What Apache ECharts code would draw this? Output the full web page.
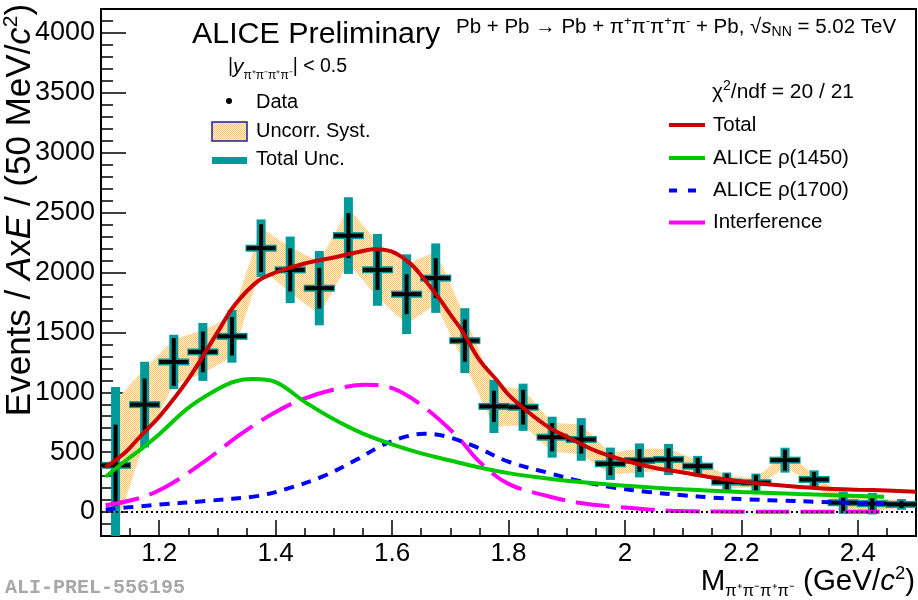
<!DOCTYPE html>
<html>
<head>
<meta charset="utf-8">
<script src="https://cdn.jsdelivr.net/npm/echarts@6/dist/echarts.min.js"></script>
<style>
html, body { margin: 0; padding: 0; background: #fff; }
#chart { width: 918px; height: 600px; }
</style>
</head>
<body>
<div id="chart"></div>
<script>
// Four-pion invariant mass spectrum, Pb-Pb UPC, with fit components
const binCenters = [1.125, 1.175, 1.225, 1.275, 1.325, 1.375, 1.425, 1.475, 1.525, 1.575,
                    1.625, 1.675, 1.725, 1.775, 1.825, 1.875, 1.925, 1.975, 2.025, 2.075,
                    2.125, 2.175, 2.225, 2.275, 2.325, 2.375, 2.425, 2.475];
const binHalfWidth = 0.025;
const counts  = [390, 897, 1253, 1337, 1467, 2203, 2022, 1869, 2308, 2022,
                 1819, 1953, 1431, 882, 875, 625, 606, 403, 431, 439,
                 383, 250, 245, 433, 272, 78, 70, 64];
const statErr = [340, 218, 200, 170, 160, 200, 180, 170, 188, 167,
                 167, 167, 176, 131, 145, 118, 118, 95, 95, 93,
                 70, 70, 65, 88, 62, 70, 65, 30];
const totErr  = [655, 358, 227, 242, 220, 240, 278, 310, 320, 300,
                 333, 290, 271, 222, 197, 171, 178, 135, 142, 130,
                 86, 80, 76, 104, 76, 93, 90, 45];
const systErr = [540, 300, 190, 180, 170, 170, 190, 220, 230, 230,
                 250, 220, 200, 170, 150, 120, 125, 90, 100, 90,
                 50, 50, 40, 60, 45, 60, 60, 30];

// Fit model: total and its components
const totalX = [1.108, 1.14, 1.17, 1.20, 1.25, 1.30, 1.33, 1.37, 1.40, 1.45, 1.50, 1.55, 1.57,
                1.60, 1.63, 1.65, 1.68, 1.70, 1.72, 1.75, 1.78, 1.80, 1.83, 1.87, 1.90, 1.95,
                2.00, 2.05, 2.10, 2.15, 2.20, 2.25, 2.30, 2.35, 2.40, 2.45, 2.50];
const totalY = [375, 490, 645, 795, 1110, 1500, 1730, 1930, 2000, 2075, 2125, 2180, 2195,
                2175, 2080, 1975, 1790, 1650, 1515, 1270, 1100, 980, 850, 705, 630, 510,
                430, 370, 330, 288, 255, 230, 210, 195, 187, 180, 170];
const rho1450X = [1.108, 1.14, 1.17, 1.20, 1.25, 1.30, 1.33, 1.36, 1.40, 1.45, 1.50, 1.55, 1.60,
                  1.65, 1.70, 1.75, 1.80, 1.85, 1.90, 2.00, 2.10, 2.20, 2.30, 2.40, 2.445];
const rho1450Y = [295, 420, 530, 650, 870, 1025, 1090, 1110, 1085, 920, 775, 655, 565,
                  490, 430, 372, 325, 290, 262, 220, 190, 168, 150, 135, 128];
const rho1700X = [1.108, 1.20, 1.28, 1.37, 1.42, 1.48, 1.54, 1.58, 1.62, 1.655, 1.69, 1.74, 1.80,
                  1.87, 1.92, 1.98, 2.04, 2.10, 2.15, 2.21, 2.27, 2.33, 2.38, 2.445];
const rho1700Y = [22, 62, 92, 135, 195, 295, 440, 550, 625, 653, 635, 552, 420,
                  325, 262, 205, 168, 140, 121, 106, 95, 86, 78, 72];
const interfX = [1.108, 1.17, 1.22, 1.28, 1.34, 1.40, 1.45, 1.51, 1.555, 1.60, 1.65, 1.71, 1.75,
                 1.80, 1.87, 1.92, 1.98, 2.04, 2.10, 2.20, 2.30, 2.445];
const interfY = [56, 122, 235, 430, 650, 835, 950, 1035, 1062, 1035, 895, 640, 420,
                 235, 130, 78, 45, 22, 8, 3, 2, 2];

// Axis ticks
const xMajorTicks = [1.2, 1.4, 1.6, 1.8, 2.0, 2.2, 2.4];
const xMinorTicks = [1.15, 1.2, 1.25, 1.3, 1.35, 1.4, 1.45, 1.5, 1.55, 1.6, 1.65, 1.7, 1.75,
                     1.8, 1.85, 1.9, 1.95, 2.0, 2.05, 2.1, 2.15, 2.2, 2.25, 2.3, 2.35, 2.4, 2.45];
const yMajorTicks = [0, 500, 1000, 1500, 2000, 2500, 3000, 3500, 4000];
const yMinorTicks = [-100, 0, 100, 200, 300, 400, 500, 600, 700, 800, 900, 1000, 1100, 1200,
                     1300, 1400, 1500, 1600, 1700, 1800, 1900, 2000, 2100, 2200, 2300, 2400,
                     2500, 2600, 2700, 2800, 2900, 3000, 3100, 3200, 3300, 3400, 3500, 3600,
                     3700, 3800, 3900, 4000, 4100];

const FONT = "'Liberation Sans', Arial, Helvetica, sans-serif";
const TEAL = '#009a9a';
const RED = '#cc0000';
const GREEN = '#00c800';
const BLUE = '#0000ff';
const MAGENTA = '#ff00ff';

// dotted orange fill for the systematic band
function dottedFill() {
  const c = document.createElement('canvas');
  c.width = 2; c.height = 2;
  const g = c.getContext('2d');
  g.fillStyle = '#fff0d6'; g.fillRect(0, 0, 2, 2);
  g.fillStyle = '#ffc66a'; g.fillRect(0, 0, 1, 1); g.fillRect(1, 1, 1, 1);
  return c;
}
const bandPattern = { image: dottedFill(), repeat: 'repeat' };

const pairs = (xs, ys) => xs.map((x, i) => [x, ys[i]]);

const chart = echarts.init(document.getElementById('chart'), null, { renderer: 'canvas' });

function errorCross(color, errs, vWidth, hThick, hExtra) {
  return function (params, api) {
    const i = params.dataIndex;
    const x = binCenters[i], y = counts[i], e = errs[i];
    const top = api.coord([x, y + e]);
    const bot = api.coord([x, y - e]);
    const left = api.coord([x - binHalfWidth, y]);
    const right = api.coord([x + binHalfWidth, y]);
    return {
      type: 'group',
      children: [
        { type: 'rect', shape: { x: top[0] - vWidth / 2, y: top[1], width: vWidth, height: bot[1] - top[1] },
          style: { fill: color } },
        { type: 'rect', shape: { x: left[0] - hExtra, y: left[1] - hThick / 2, width: right[0] - left[0] + 2 * hExtra, height: hThick },
          style: { fill: color } }
      ]
    };
  };
}

const hiddenLine = { show: false, onZero: false };
const tickStyle = { color: '#000', width: 1.5 };

const option = {
  animation: false,
  backgroundColor: '#fff',
  grid: { left: 101, right: 2, top: 9, bottom: 64, show: true, borderColor: '#000', borderWidth: 2, backgroundColor: 'transparent' },
  xAxis: [
    { type: 'value', min: 1.1, max: 2.5, position: 'bottom',
      axisLine: hiddenLine, splitLine: { show: false },
      axisTick: { show: true, inside: true, length: 8, customValues: xMinorTicks, lineStyle: tickStyle },
      axisLabel: { show: false } },
    { type: 'value', min: 1.1, max: 2.5, position: 'bottom',
      axisLine: hiddenLine, splitLine: { show: false },
      axisTick: { show: true, inside: true, length: 16, customValues: xMajorTicks, lineStyle: tickStyle },
      axisLabel: { show: true, customValues: xMajorTicks, margin: 5, fontSize: 26, color: '#000', fontFamily: FONT,
                   formatter: v => String(Math.round(v * 10) / 10) } }
  ],
  yAxis: [
    { type: 'value', min: -200, max: 4200, position: 'left',
      axisLine: hiddenLine, splitLine: { show: false },
      axisTick: { show: true, inside: true, length: 12, customValues: yMinorTicks, lineStyle: tickStyle },
      axisLabel: { show: false } },
    { type: 'value', min: -200, max: 4200, position: 'left',
      axisLine: hiddenLine, splitLine: { show: false },
      axisTick: { show: true, inside: true, length: 25, customValues: yMajorTicks, lineStyle: tickStyle },
      axisLabel: { show: true, customValues: yMajorTicks, margin: 6, fontSize: 27, color: '#000', fontFamily: FONT,
                   formatter: v => String(v) } }
  ],
  series: [
    { // uncorrelated systematic band
      type: 'custom', name: 'Uncorr. Syst.', z: 1, clip: true,
      data: [[binCenters[0], counts[0]]],
      renderItem: function (params, api) {
        const pts = [];
        for (let i = 0; i < binCenters.length; i++) pts.push(api.coord([binCenters[i], counts[i] + systErr[i]]));
        for (let i = binCenters.length - 1; i >= 0; i--) pts.push(api.coord([binCenters[i], counts[i] - systErr[i]]));
        return { type: 'polygon', shape: { points: pts }, style: { fill: bandPattern, stroke: null } };
      }
    },
    { // total uncertainty
      type: 'custom', name: 'Total Unc.', z: 2, clip: true,
      data: binCenters.map((x, i) => [x, counts[i]]),
      renderItem: errorCross(TEAL, totErr, 9, 7, 1)
    },
    { // statistical uncertainty
      type: 'custom', name: 'Data', z: 3, clip: true,
      data: binCenters.map((x, i) => [x, counts[i]]),
      renderItem: errorCross('#000', statErr, 4, 4, 0)
    },
    { type: 'scatter', z: 3, data: pairs(binCenters, counts), symbolSize: 5, itemStyle: { color: '#000' } },
    { type: 'line', name: 'Interference', z: 4, data: pairs(interfX, interfY), showSymbol: false, smooth: 0.35,
      lineStyle: { color: MAGENTA, width: 4, type: [34, 11] } },
    { type: 'line', name: 'ALICE ρ(1700)', z: 4, data: pairs(rho1700X, rho1700Y), showSymbol: false, smooth: 0.35,
      lineStyle: { color: BLUE, width: 4, type: [10, 8] } },
    { type: 'line', name: 'ALICE ρ(1450)', z: 4, data: pairs(rho1450X, rho1450Y), showSymbol: false, smooth: 0.35,
      lineStyle: { color: GREEN, width: 4 } },
    { type: 'line', name: 'Total', z: 5, data: pairs(totalX, totalY), showSymbol: false, smooth: 0.35,
      lineStyle: { color: RED, width: 4 } },
    { type: 'line', z: 6, data: [[1.1, 0], [2.5, 0]], showSymbol: false,
      lineStyle: { color: '#000', width: 2, type: [2, 3] } }
  ],
  graphic: { elements: [
    { type: 'text', x: 192, y: 35, z: 10,
      style: { text: 'ALICE Preliminary', font: '30.4px ' + FONT, fill: '#000', verticalAlign: 'middle' } },
    { type: 'text', x: 456, y: 27, z: 10,
      style: { text: 'Pb + Pb → Pb + π{sp|+}π{sp|-}π{sp|+}π{sp|-} + Pb, √{it|s}{sb|NN} = 5.02 TeV',
               fontSize: 20.5, fontFamily: FONT, lineHeight: 24, fill: '#000', verticalAlign: 'middle',
               rich: { sp: { fontSize: 13, lineHeight: 13, verticalAlign: 'top', fontFamily: FONT },
                       sb: { fontSize: 14, lineHeight: 13, verticalAlign: 'bottom', fontFamily: FONT },
                       it: { fontSize: 20.5, fontStyle: 'italic', fontFamily: FONT } } } },
    { type: 'text', x: 228, y: 67, z: 10,
      style: { text: '|{it|y}{sb|π⁺π⁻π⁺π⁻}| < 0.5', fontSize: 19.5, fontFamily: FONT, lineHeight: 30, fill: '#000', verticalAlign: 'middle',
               rich: { it: { fontSize: 21, fontStyle: 'italic', fontFamily: FONT },
                       sb: { fontSize: 12, lineHeight: 12, verticalAlign: 'bottom', fontFamily: FONT } } } },
    // left legend
    { type: 'circle', shape: { cx: 229, cy: 101, r: 3 }, style: { fill: '#000' }, z: 10 },
    { type: 'text', x: 256, y: 102, z: 10, style: { text: 'Data', font: '20px ' + FONT, fill: '#000', verticalAlign: 'middle' } },
    { type: 'rect', shape: { x: 212, y: 122, width: 35, height: 19 }, style: { fill: bandPattern, stroke: '#1c1c9a', lineWidth: 1.5 }, z: 10 },
    { type: 'text', x: 256, y: 131, z: 10, style: { text: 'Uncorr. Syst.', font: '20px ' + FONT, fill: '#000', verticalAlign: 'middle' } },
    { type: 'rect', shape: { x: 212, y: 157, width: 35, height: 7 }, style: { fill: TEAL }, z: 10 },
    { type: 'text', x: 256, y: 159, z: 10, style: { text: 'Total Unc.', font: '20px ' + FONT, fill: '#000', verticalAlign: 'middle' } },
    // right legend
    { type: 'text', x: 712, y: 92, z: 10,
      style: { text: 'χ{sp|2}/ndf = 20 / 21', fontSize: 21, fontFamily: FONT, lineHeight: 25, fill: '#000', verticalAlign: 'middle',
               rich: { sp: { fontSize: 14, lineHeight: 14, verticalAlign: 'top', fontFamily: FONT } } } },
    { type: 'line', shape: { x1: 669, y1: 125, x2: 705, y2: 125 }, style: { stroke: RED, lineWidth: 4 }, z: 10 },
    { type: 'text', x: 713, y: 125, z: 10, style: { text: 'Total', font: '20.5px ' + FONT, fill: '#000', verticalAlign: 'middle' } },
    { type: 'line', shape: { x1: 669, y1: 158, x2: 705, y2: 158 }, style: { stroke: GREEN, lineWidth: 4 }, z: 10 },
    { type: 'text', x: 713, y: 158, z: 10, style: { text: 'ALICE ρ(1450)', font: '20.5px ' + FONT, fill: '#000', verticalAlign: 'middle' } },
    { type: 'line', shape: { x1: 669, y1: 190.5, x2: 705, y2: 190.5 }, style: { stroke: BLUE, lineWidth: 4, lineDash: [8, 11] }, z: 10 },
    { type: 'text', x: 713, y: 190.5, z: 10, style: { text: 'ALICE ρ(1700)', font: '20.5px ' + FONT, fill: '#000', verticalAlign: 'middle' } },
    { type: 'line', shape: { x1: 669, y1: 222.5, x2: 705, y2: 222.5 }, style: { stroke: MAGENTA, lineWidth: 4 }, z: 10 },
    { type: 'text', x: 713, y: 222.5, z: 10, style: { text: 'Interference', font: '20.5px ' + FONT, fill: '#000', verticalAlign: 'middle' } },
    // axis titles
    { type: 'text', x: 915, y: 582, z: 10,
      style: { text: 'M{sb|π⁺π⁻π⁺π⁻} (GeV/{it|c}{sp|2})', fontSize: 29.5, fontFamily: FONT, lineHeight: 35, fill: '#000',
               align: 'right', verticalAlign: 'middle',
               rich: { sb: { fontSize: 16.5, lineHeight: 15, verticalAlign: 'bottom', fontFamily: FONT },
                       sp: { fontSize: 18.5, lineHeight: 18, verticalAlign: 'top', fontFamily: FONT },
                       it: { fontSize: 29.5, fontStyle: 'italic', fontFamily: FONT } } } },
    { type: 'text', x: 20, y: 210, rotation: Math.PI / 2, z: 10,
      style: { text: 'Events / {it|A}x{it|E} / (50 MeV/{it|c}{sp|2})', fontSize: 35, fontFamily: FONT, lineHeight: 38, fill: '#000',
               align: 'center', verticalAlign: 'middle',
               rich: { it: { fontSize: 35, fontStyle: 'italic', fontFamily: FONT },
                       sp: { fontSize: 21, lineHeight: 21, verticalAlign: 'top', fontFamily: FONT } } } },
    { type: 'text', x: 5, y: 588, z: 10,
      style: { text: 'ALI-PREL-556195', font: 'bold 20px "Liberation Mono", "DejaVu Sans Mono", monospace', fill: '#a8a8a8', verticalAlign: 'middle' } }
  ] }
};

chart.setOption(option);
</script>
</body>
</html>
